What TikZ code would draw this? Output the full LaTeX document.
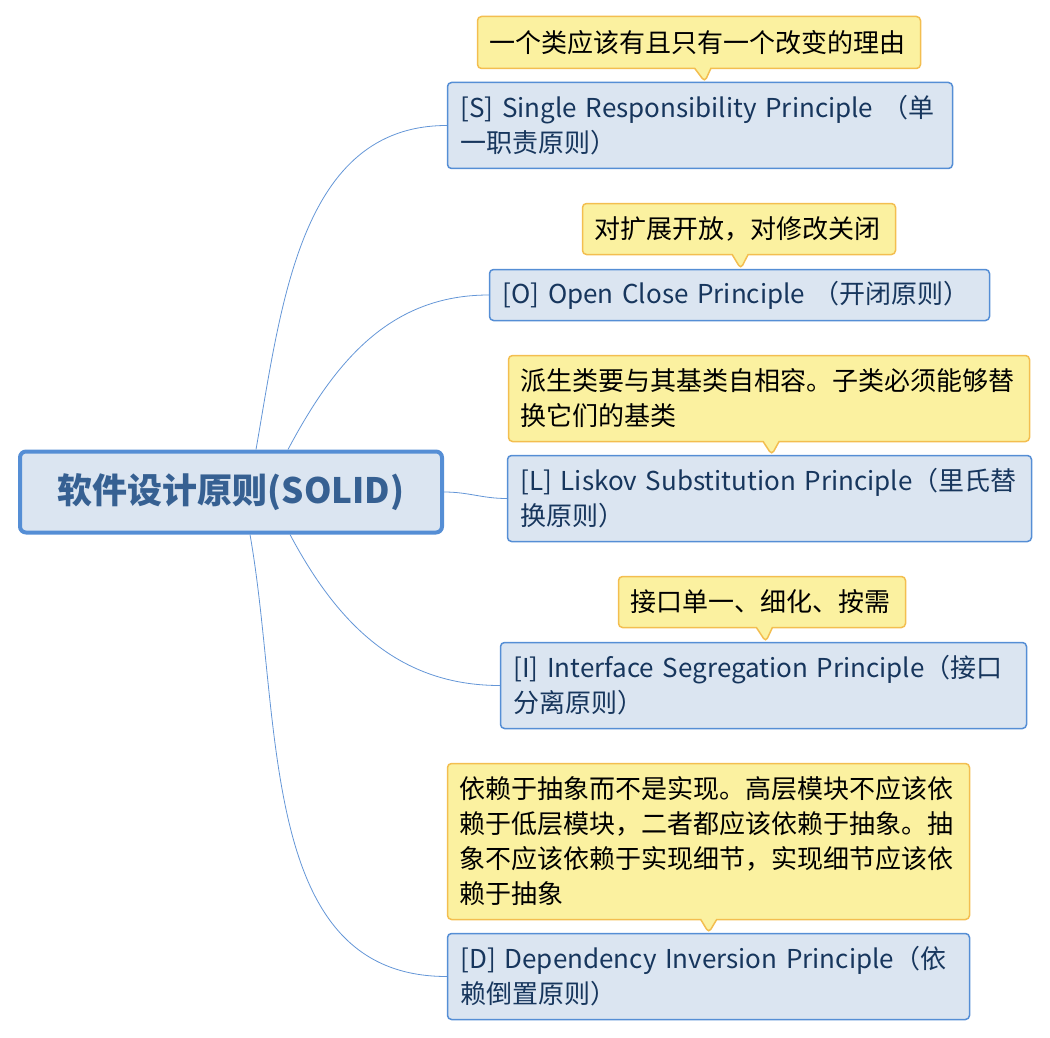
\documentclass[tikz,border=0pt]{standalone}
\usepackage{fontspec}
\newfontfamily\cjk{Noto Sans CJK SC}
\usepackage{tikz}
\usetikzlibrary{positioning,calc,shapes.callouts}
\definecolor{boxfill}{RGB}{219,229,241}
\definecolor{boxline}{RGB}{85,142,213}
\definecolor{boxtext}{RGB}{23,54,93}
\definecolor{roottext}{RGB}{54,96,146}
\definecolor{tipfill}{RGB}{251,241,160}
\definecolor{tipline}{RGB}{243,190,80}
\definecolor{linkcol}{RGB}{100,150,215}
\pgfkeys{tikz/rootbox/.style={draw=boxline,fill=boxfill,line width=4pt,rounded corners=6pt,text=roottext,font=\cjk\bfseries\fontsize{35}{40}\selectfont,minimum width=422pt,minimum height=81pt}}
\pgfkeys{tikz/principle/.style={draw=boxline,fill=boxfill,line width=1.5pt,rounded corners=4pt,text=boxtext,font=\cjk\fontsize{26}{35}\selectfont,align=left,inner xsep=13pt,inner ysep=0pt}}
\pgfkeys{tikz/tip/.style={rectangle callout,draw=tipline,fill=tipfill,line width=1.5pt,rounded corners=4pt,text=black,font=\cjk\fontsize{26}{35}\selectfont,align=left,inner xsep=12pt,inner ysep=0pt,callout pointer width=16pt}}
\pgfkeys{tikz/link/.style={draw=linkcol,line width=0.8pt}}

\begin{document}
\begin{tikzpicture}[x=1pt,y=1pt]
  \useasboundingbox (0,0) rectangle (1050,-1038);

  \node[rootbox] (p0) at (231,-492) {软件设计原则(SOLID)};

  \node[principle,text width=479pt,minimum height=86pt] (p1) at (700,-125.5) {[S] Single Responsibility Principle （单\\一职责原则）};
  \node[principle,text width=474pt,minimum height=51pt] (p2) at (739.5,-295) {[O] Open Close Principle （开闭原则）};
  \node[principle,text width=498pt,minimum height=86pt] (p3) at (769.5,-498.5) {[L] Liskov Substitution Principle（里氏替\\换原则）};
  \node[principle,text width=500pt,minimum height=86pt] (p4) at (763.5,-685.5) {[I] Interface Segregation Principle（接口\\分离原则）};
  \node[principle,text width=496pt,minimum height=86pt] (p5) at (708.5,-976.5) {[D] Dependency Inversion Principle（依\\赖倒置原则）};

  \node[tip,text width=419pt,minimum height=52pt,callout absolute pointer={($(p1.north west)+(258pt,0)$)}] (t1) at (699,-42.5) {一个类应该有且只有一个改变的理由};
  \node[tip,text width=289pt,minimum height=51pt,callout absolute pointer={($(p2.north west)+(252pt,0)$)}] (t2) at (739,-229) {对扩展开放，对修改关闭};
  \node[tip,text width=497pt,minimum height=86pt,callout absolute pointer={($(p3.north west)+(265pt,0)$)}] (t3) at (769,-398.5) {派生类要与其基类自相容。子类必须能够替\\换它们的基类};
  \node[tip,text width=263pt,minimum height=51pt,callout absolute pointer={($(p4.north west)+(266pt,0)$)}] (t4) at (762,-602) {接口单一、细化、按需};
  \node[tip,text width=498pt,minimum height=156pt,callout absolute pointer={($(p5.north west)+(262pt,0)$)}] (t5) at (708.5,-841.5) {依赖于抽象而不是实现。高层模块不应该依\\赖于低层模块，二者都应该依赖于抽象。抽\\象不应该依赖于实现细节，实现细节应该依\\赖于抽象};

  \draw[link] ($(p0.north)+(25pt,0)$) to[out=80,in=180] (p1.west);
  \draw[link] ($(p0.north)+(57pt,0)$) to[out=62,in=180] (p2.west);
  \draw[link] (p0.east) to[out=0,in=180] (p3.west);
  \draw[link] ($(p0.south)+(59pt,0)$) to[out=-62,in=180] (p4.west);
  \draw[link] ($(p0.south)+(19pt,0)$) to[out=-80,in=180] (p5.west);
\end{tikzpicture}
\end{document}
